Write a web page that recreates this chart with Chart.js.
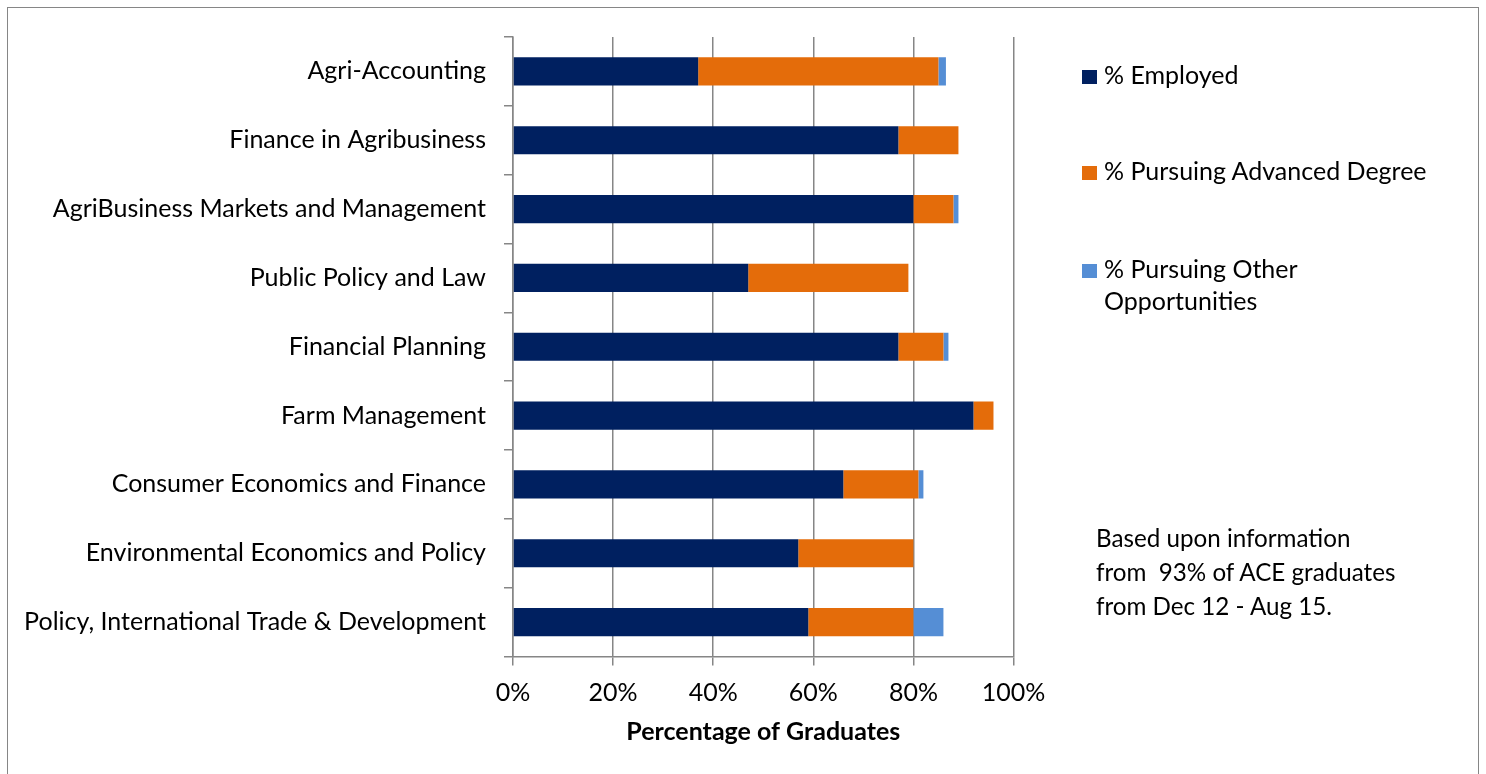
<!DOCTYPE html>
<html>
<head>
<meta charset="utf-8">
<script src="https://cdn.jsdelivr.net/npm/chart.js@4/dist/chart.umd.min.js"></script>
<style>
  html, body { margin: 0; padding: 0; background: #fff; }
  body { width: 1486px; height: 774px; position: relative; overflow: hidden; font-family: Lato, sans-serif; }
  #frame { position: absolute; left: 7px; top: 7px; width: 1472px; height: 820px; border: 1.5px solid #868686; box-sizing: border-box; }
  #c { position: absolute; left: 0; top: 0; }
  .txt { position: absolute; font-family: Lato, sans-serif; font-size: 25px; color: #000; white-space: pre; }
  .sw { position: absolute; width: 14.5px; height: 14.5px; }
</style>
</head>
<body>
<div id="frame"></div>
<canvas id="c" width="1486" height="774"></canvas>
<div id="legend"></div>
<div id="note" class="txt"></div>
<script>
// ---- data ----
const categories = [
  "Agri-Accounting",
  "Finance in Agribusiness",
  "AgriBusiness Markets and Management",
  "Public Policy and Law",
  "Financial Planning",
  "Farm Management",
  "Consumer Economics and Finance",
  "Environmental Economics and Policy",
  "Policy, International Trade & Development"
];
const seriesNames = ["% Employed", "% Pursuing Advanced Degree", "% Pursuing Other\nOpportunities"];
const employed = [37, 77, 80, 47, 77, 92, 66, 57, 59];
const advancedDegree = [48, 12, 8, 32, 9, 4, 15, 23, 21];
const otherOpportunities = [1.5, 0, 1, 0, 1, 0, 1, 0, 6];
const xTickValues = [0, 20, 40, 60, 80, 100];
const noteLines = ["Based upon information", "from  93% of ACE graduates", "from Dec 12 - Aug 15."];
const xTitle = "Percentage of Graduates";

// ---- styles ----
const colors = ["#002060", "#E46C0A", "#558ED5"];
const FONT = "Lato";
const FSIZE = 25;
const GRID = "#868686";

const chart = new Chart(document.getElementById("c"), {
  type: "bar",
  data: {
    labels: categories,
    datasets: [employed, advancedDegree, otherOpportunities].map((d, i) => ({
      label: seriesNames[i],
      data: d,
      backgroundColor: colors[i],
      borderWidth: 0,
      barPercentage: 0.41,
      categoryPercentage: 1
    }))
  },
  options: {
    indexAxis: "y",
    responsive: false,
    animation: false,
    devicePixelRatio: 1,
    layout: { padding: { top: 37, right: 472.5, left: 0, bottom: 0 } },
    plugins: { legend: { display: false }, tooltip: { enabled: false } },
    scales: {
      y: {
        stacked: true,
        afterFit: s => { s.width = 513; },
        grid: { display: true, offset: true, drawOnChartArea: false, drawTicks: true, tickLength: 9, color: GRID, lineWidth: 1.5 },
        border: { display: true, color: GRID, width: 1.5 },
        ticks: { font: { family: FONT, size: FSIZE }, color: "#000", padding: 18 }
      },
      x: {
        stacked: true,
        min: 0, max: 100,
        afterBuildTicks: s => { s.ticks = xTickValues.map(v => ({ value: v })); },
        afterFit: s => { s.height = 117.5; },
        grid: { color: GRID, lineWidth: 1.5, tickLength: 9, drawTicks: true },
        border: { display: true, color: GRID, width: 1.5 },
        ticks: { font: { family: FONT, size: FSIZE }, color: "#000", padding: 12.5, callback: v => v + "%" },
        title: { display: true, text: xTitle, font: { family: FONT, size: FSIZE, weight: "bold" }, color: "#000", padding: { top: 0, bottom: 27 } }
      }
    }
  }
});

// ---- legend (HTML) ----
const legend = document.getElementById("legend");
const legendBaselines = [84.3, 180.7, 278.5];
chart.data.datasets.forEach((ds, i) => {
  const sw = document.createElement("div");
  sw.className = "sw";
  sw.style.background = ds.backgroundColor;
  sw.style.left = "1082px";
  sw.style.top = (legendBaselines[i] - 14.8) + "px";
  legend.appendChild(sw);
  const t = document.createElement("div");
  t.className = "txt";
  t.style.left = "1104px";
  t.style.lineHeight = "31.5px";
  t.style.top = (legendBaselines[i] - 25.4) + "px";
  t.textContent = ds.label;
  legend.appendChild(t);
});

// ---- note ----
const note = document.getElementById("note");
note.style.left = "1096px";
note.style.fontSize = "24.2px";
note.style.lineHeight = "34px";
note.style.top = "520.5px";
note.textContent = noteLines.join("\n");
</script>
</body>
</html>
